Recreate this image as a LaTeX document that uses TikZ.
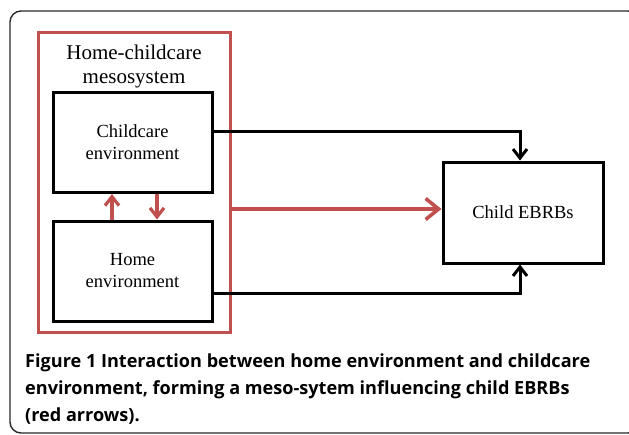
\documentclass[tikz,border=0pt]{standalone}
\usepackage{fontspec}
\setmainfont{Liberation Serif}
\newfontfamily\capfont{Open Sans}
\usetikzlibrary{arrows.meta}
\definecolor{mesored}{RGB}{192,80,77}
\definecolor{framegray}{RGB}{40,40,40}
\tikzset{
  envbox/.style={draw=black, line width=3pt, minimum width=159pt, minimum height=100pt, align=center, font=\fontsize{18.5}{22}\selectfont, inner sep=0pt},
  mesobox/.style={draw=mesored, line width=3pt, minimum width=192pt, minimum height=300pt, inner sep=0pt},
  blackarrow/.style={draw=black, line width=3pt, -{Straight Barb[length=9pt,width=14pt,line width=3pt]}},
  redarrow/.style={draw=mesored, line width=3.2pt, -{Straight Barb[length=9pt,width=14pt,line width=3.2pt]}},
  bigredarrow/.style={draw=mesored, line width=3.6pt, -{Straight Barb[length=13pt,width=21pt,line width=3.6pt]}},
}
\begin{document}
\begin{tikzpicture}[x=1pt,y=-1pt]
\useasboundingbox (0,0) rectangle (629,434);
\begin{scope}
\clip (0,0) rectangle (629,434);
\draw[framegray, line width=1.4pt, rounded corners=11pt] (10,11) rectangle (639,433);
\end{scope}
\node[mesobox] (meso) at (134,182) {};
\node[align=center, font=\fontsize{21}{24}\selectfont] (title) at (134,66) {Home-childcare\\mesosystem};
\node[envbox] (childcare) at (132.5,142.5) {Childcare\\environment};
\node[envbox] (home) at (132.5,271) {Home\\environment};
\node[envbox, minimum width=160pt, minimum height=101pt] (child) at (523,212.5) {Child EBRBs};
\node[anchor=north west, align=left, inner sep=0pt, font=\capfont\bfseries\fontsize{18.1}{27}\selectfont] (caption) at (25,354) {Figure 1 Interaction between home environment and childcare\\environment, forming a meso-sytem influencing child EBRBs\\(red arrows).};
\draw[blackarrow] (childcare.east |- 0,131) -| (child.north -| 520,0);
\draw[blackarrow] (home.east |- 0,293) -| (child.south -| 520,0);
\draw[bigredarrow] (meso.east |- 0,209) -- (child.west |- 0,209);
\draw[redarrow] (home.north -| 112,0) -- (childcare.south -| 112,0);
\draw[redarrow] (childcare.south -| 157,0) -- (home.north -| 157,0);
\end{tikzpicture}
\end{document}
